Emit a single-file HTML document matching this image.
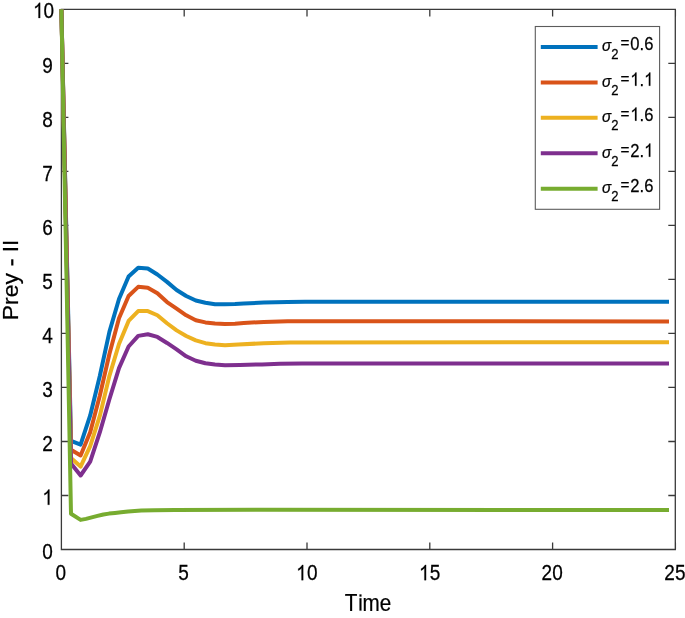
<!DOCTYPE html>
<html><head><meta charset="utf-8"><title>Prey - II</title>
<style>html,body{margin:0;padding:0;background:#fff;width:685px;height:618px;overflow:hidden}svg{display:block;will-change:transform}</style>
</head><body>
<svg width="685" height="618" viewBox="0 0 685 618">
<rect width="685" height="618" fill="#fff"/>
<path d="M61.4,549.5H675.3V9.4H61.4ZM61.40,549.5v-7.0M61.40,9.4v7.0M184.20,549.5v-7.0M184.20,9.4v7.0M307.00,549.5v-7.0M307.00,9.4v7.0M429.80,549.5v-7.0M429.80,9.4v7.0M552.60,549.5v-7.0M552.60,9.4v7.0M675.40,549.5v-7.0M675.40,9.4v7.0M61.4,549.50h7.0M675.3,549.50h-7.0M61.4,495.49h7.0M675.3,495.49h-7.0M61.4,441.48h7.0M675.3,441.48h-7.0M61.4,387.47h7.0M675.3,387.47h-7.0M61.4,333.46h7.0M675.3,333.46h-7.0M61.4,279.45h7.0M675.3,279.45h-7.0M61.4,225.44h7.0M675.3,225.44h-7.0M61.4,171.43h7.0M675.3,171.43h-7.0M61.4,117.42h7.0M675.3,117.42h-7.0M61.4,63.41h7.0M675.3,63.41h-7.0M61.4,9.40h7.0M675.3,9.40h-7.0" fill="none" stroke="#3a3a3a" stroke-width="1.3"/>
<polyline points="61.40,9.20 71.00,440.80 80.60,444.60 90.20,415.45 99.80,375.98 109.40,331.91 119.00,298.95 128.60,276.42 138.20,267.65 147.80,268.44 157.40,274.51 167.00,281.90 176.60,290.00 186.20,296.00 195.80,300.50 205.40,302.70 215.00,304.20 224.80,304.30 235.00,304.00 243.80,303.40 263.80,302.60 287.60,302.00 305.00,301.80 669.00,301.80" fill="none" stroke="#0072BD" stroke-width="4.0" stroke-linejoin="round" stroke-linecap="butt"/>
<polyline points="61.40,9.20 71.00,449.80 80.60,455.40 90.20,432.35 99.80,395.81 109.40,354.07 119.00,318.23 128.60,296.05 138.20,286.84 147.80,287.71 157.40,293.19 167.00,302.03 176.60,308.62 186.20,315.30 195.80,320.20 205.40,322.40 215.00,323.50 224.80,323.90 235.00,323.70 243.80,323.00 263.80,321.90 287.60,321.30 305.00,321.30 669.00,321.40" fill="none" stroke="#D95319" stroke-width="4.0" stroke-linejoin="round" stroke-linecap="butt"/>
<polyline points="61.40,9.20 71.00,458.10 80.60,466.60 90.20,446.06 99.80,415.95 109.40,375.88 119.00,344.00 128.60,320.98 138.20,311.09 147.80,311.10 157.40,315.24 167.00,323.26 176.60,330.35 186.20,336.00 195.80,340.40 205.40,343.20 215.00,344.40 225.00,345.20 238.20,344.60 263.80,343.20 290.00,342.40 669.00,342.35" fill="none" stroke="#EDB120" stroke-width="4.0" stroke-linejoin="round" stroke-linecap="butt"/>
<polyline points="61.40,9.20 71.00,463.50 80.60,475.50 90.20,461.52 99.80,432.44 109.40,399.18 119.00,368.15 128.60,346.49 138.20,335.87 147.80,334.28 157.40,336.94 167.00,342.95 176.60,349.40 186.20,356.30 195.80,360.70 205.40,363.30 215.00,364.40 225.00,365.30 240.00,365.00 262.00,364.40 280.00,363.80 302.00,363.40 400.00,363.40 669.00,363.60" fill="none" stroke="#7E2F8E" stroke-width="4.0" stroke-linejoin="round" stroke-linecap="butt"/>
<polyline points="61.40,9.20 71.00,513.80 80.60,519.90 86.00,518.90 91.70,517.40 97.50,515.90 103.40,514.50 109.00,513.60 115.00,512.90 121.00,512.20 128.10,511.40 141.30,510.60 154.40,510.20 175.00,509.90 260.00,509.80 669.00,510.00" fill="none" stroke="#77AC30" stroke-width="4.0" stroke-linejoin="round" stroke-linecap="butt"/>
<g font-family="Liberation Sans, sans-serif" fill="#000" stroke="#000" stroke-width="0.22">
<g transform="translate(0,580.15) scale(1,1.168)"><text x="55.50" y="0" font-size="19.0">0</text></g>
<g transform="translate(0,580.15) scale(1,1.168)"><text x="178.20" y="0" font-size="19.0">5</text></g>
<g transform="translate(0,580.15) scale(1,1.168)"><path transform="translate(296.13,0) scale(0.00928,-0.00928)" stroke-width="23.7" d="M583 0H763V1409H646C612 1340 556 1274 480 1210C404 1146 318 1096 223 1060V890C288 914 356 948 428 992C500 1036 552 1080 583 1122Z"/><text x="306.93" y="0" font-size="19.0">0</text></g>
<g transform="translate(0,580.15) scale(1,1.168)"><path transform="translate(419.00,0) scale(0.00928,-0.00928)" stroke-width="23.7" d="M583 0H763V1409H646C612 1340 556 1274 480 1210C404 1146 318 1096 223 1060V890C288 914 356 948 428 992C500 1036 552 1080 583 1122Z"/><text x="429.80" y="0" font-size="19.0">5</text></g>
<g transform="translate(0,580.15) scale(1,1.168)"><text x="541.50" y="0" font-size="19.0">2</text><text x="552.30" y="0" font-size="19.0">0</text></g>
<g transform="translate(0,580.15) scale(1,1.168)"><text x="664.15" y="0" font-size="19.0">2</text><text x="674.95" y="0" font-size="19.0">5</text></g>
<g transform="translate(0,558.80) scale(1,1.168)"><text x="42.35" y="0" font-size="19.0">0</text></g>
<g transform="translate(0,504.79) scale(1,1.168)"><path transform="translate(42.35,0) scale(0.00928,-0.00928)" stroke-width="23.7" d="M583 0H763V1409H646C612 1340 556 1274 480 1210C404 1146 318 1096 223 1060V890C288 914 356 948 428 992C500 1036 552 1080 583 1122Z"/></g>
<g transform="translate(0,450.78) scale(1,1.168)"><text x="42.35" y="0" font-size="19.0">2</text></g>
<g transform="translate(0,396.77) scale(1,1.168)"><text x="42.35" y="0" font-size="19.0">3</text></g>
<g transform="translate(0,342.76) scale(1,1.168)"><text x="42.35" y="0" font-size="19.0">4</text></g>
<g transform="translate(0,288.75) scale(1,1.168)"><text x="42.35" y="0" font-size="19.0">5</text></g>
<g transform="translate(0,234.74) scale(1,1.168)"><text x="42.35" y="0" font-size="19.0">6</text></g>
<g transform="translate(0,180.73) scale(1,1.168)"><text x="42.35" y="0" font-size="19.0">7</text></g>
<g transform="translate(0,126.72) scale(1,1.168)"><text x="42.35" y="0" font-size="19.0">8</text></g>
<g transform="translate(0,72.71) scale(1,1.168)"><text x="42.35" y="0" font-size="19.0">9</text></g>
<g transform="translate(0,18.00) scale(1,1.168)"><path transform="translate(33.07,0) scale(0.00928,-0.00928)" stroke-width="23.7" d="M583 0H763V1409H646C612 1340 556 1274 480 1210C404 1146 318 1096 223 1060V890C288 914 356 948 428 992C500 1036 552 1080 583 1122Z"/><text x="43.63" y="0" font-size="19.0">0</text></g>
<g transform="translate(0,610.6) scale(1,1.13)"><text x="344.85" y="0" font-size="20.7">T</text><path transform="translate(358.19,0) scale(0.01011,-0.01011)" stroke-width="21.8" d="M137 0V1082H317V0ZM137 1235V1409H317V1235Z"/><text x="362.59" y="0" font-size="20.7">m</text><text x="379.64" y="0" font-size="20.7">e</text></g>
<g transform="translate(17.8,280.1) scale(1,1.07) rotate(-90)"><text x="-37.46" y="0" font-size="21.4">Prey</text><text x="26.03" y="0" font-size="21.4">II</text></g>
<rect x="11.2" y="259.3" width="2.2" height="6.2" stroke="none"/>
</g>
<rect x="535.3" y="26.5" width="124.3" height="182.8" fill="#fff" stroke="#5c5c5c" stroke-width="1.1"/>
<line x1="540.8" y1="46.90" x2="597.6" y2="46.90" stroke="#0072BD" stroke-width="4.0"/>
<line x1="540.8" y1="82.38" x2="597.6" y2="82.38" stroke="#D95319" stroke-width="4.0"/>
<line x1="540.8" y1="117.86" x2="597.6" y2="117.86" stroke="#EDB120" stroke-width="4.0"/>
<line x1="540.8" y1="153.34" x2="597.6" y2="153.34" stroke="#7E2F8E" stroke-width="4.0"/>
<line x1="540.8" y1="188.82" x2="597.6" y2="188.82" stroke="#77AC30" stroke-width="4.0"/>
<g font-family="Liberation Sans, sans-serif" fill="#000" stroke="#000" stroke-width="0.22">
<text transform="translate(602.0,50.60) scale(0.92,0.97)" font-size="16.6" font-style="italic">&#963;</text>
<g transform="translate(0,59.33) scale(1,1.14)"><text x="611.30" y="0" font-size="13.1">2</text></g>
<g transform="translate(0,49.73) scale(1,1.155)"><text transform="translate(620.60,-5.49) scale(0.92,0.8) translate(-620.60,5.44)" x="620.60" y="0" font-size="16.6">=</text><text x="630.29" y="0" font-size="16.6">0</text><text x="639.53" y="0" font-size="16.6">.</text><text x="644.14" y="0" font-size="16.6">6</text></g>
<text transform="translate(602.0,86.60) scale(0.92,0.97)" font-size="16.6" font-style="italic">&#963;</text>
<g transform="translate(0,95.33) scale(1,1.14)"><text x="611.30" y="0" font-size="13.1">2</text></g>
<g transform="translate(0,85.73) scale(1,1.155)"><text transform="translate(620.60,-5.49) scale(0.92,0.8) translate(-620.60,5.44)" x="620.60" y="0" font-size="16.6">=</text><path transform="translate(630.29,0) scale(0.00811,-0.00811)" stroke-width="27.1" d="M583 0H763V1409H646C612 1340 556 1274 480 1210C404 1146 318 1096 223 1060V890C288 914 356 948 428 992C500 1036 552 1080 583 1122Z"/><text x="639.53" y="0" font-size="16.6">.</text><path transform="translate(644.14,0) scale(0.00811,-0.00811)" stroke-width="27.1" d="M583 0H763V1409H646C612 1340 556 1274 480 1210C404 1146 318 1096 223 1060V890C288 914 356 948 428 992C500 1036 552 1080 583 1122Z"/></g>
<text transform="translate(602.0,121.50) scale(0.92,0.97)" font-size="16.6" font-style="italic">&#963;</text>
<g transform="translate(0,130.23) scale(1,1.14)"><text x="611.30" y="0" font-size="13.1">2</text></g>
<g transform="translate(0,120.63) scale(1,1.155)"><text transform="translate(620.60,-5.49) scale(0.92,0.8) translate(-620.60,5.44)" x="620.60" y="0" font-size="16.6">=</text><path transform="translate(630.29,0) scale(0.00811,-0.00811)" stroke-width="27.1" d="M583 0H763V1409H646C612 1340 556 1274 480 1210C404 1146 318 1096 223 1060V890C288 914 356 948 428 992C500 1036 552 1080 583 1122Z"/><text x="639.53" y="0" font-size="16.6">.</text><text x="644.14" y="0" font-size="16.6">6</text></g>
<text transform="translate(602.0,157.60) scale(0.92,0.97)" font-size="16.6" font-style="italic">&#963;</text>
<g transform="translate(0,166.33) scale(1,1.14)"><text x="611.30" y="0" font-size="13.1">2</text></g>
<g transform="translate(0,156.73) scale(1,1.155)"><text transform="translate(620.60,-5.49) scale(0.92,0.8) translate(-620.60,5.44)" x="620.60" y="0" font-size="16.6">=</text><text x="630.29" y="0" font-size="16.6">2</text><text x="639.53" y="0" font-size="16.6">.</text><path transform="translate(644.14,0) scale(0.00811,-0.00811)" stroke-width="27.1" d="M583 0H763V1409H646C612 1340 556 1274 480 1210C404 1146 318 1096 223 1060V890C288 914 356 948 428 992C500 1036 552 1080 583 1122Z"/></g>
<text transform="translate(602.0,192.50) scale(0.92,0.97)" font-size="16.6" font-style="italic">&#963;</text>
<g transform="translate(0,201.23) scale(1,1.14)"><text x="611.30" y="0" font-size="13.1">2</text></g>
<g transform="translate(0,191.63) scale(1,1.155)"><text transform="translate(620.60,-5.49) scale(0.92,0.8) translate(-620.60,5.44)" x="620.60" y="0" font-size="16.6">=</text><text x="630.29" y="0" font-size="16.6">2</text><text x="639.53" y="0" font-size="16.6">.</text><text x="644.14" y="0" font-size="16.6">6</text></g>
</g>
</svg>
</body></html>
